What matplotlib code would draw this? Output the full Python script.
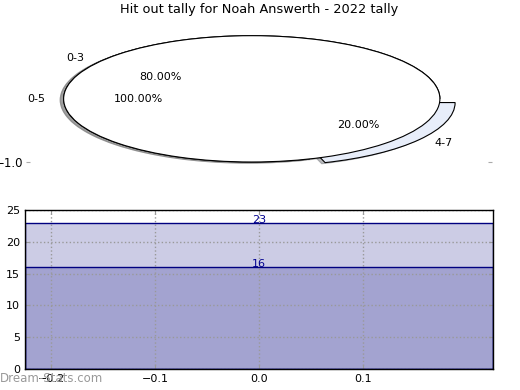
import matplotlib
matplotlib.use("Agg")
import matplotlib.pyplot as plt

title = "Hit out tally for Noah Answerth - 2022 tally"
pie_labels = ["0-3", "4-7"]
pie_values = [80, 20]
pie_explode = [0, 0.1]
pie_colors = ["#ffffff", "#e8eefa"]
total_label = ["0-5"]
total_value = [100]
bar_values = [23, 16]
bar_x = [0.0]
yticks = [0, 5, 10, 15, 20, 25]
xticks = [-0.2, -0.1, 0.0, 0.1]

W, H = 520, 390
fig = plt.figure(figsize=(5.2, 3.9), dpi=100)

def rect(l, t, r, b):
    return [l / W, 1 - b / H, (r - l) / W, (b - t) / H]

shadow = dict(ox=-0.013, oy=-0.013, shade=0.5)

# top pie axes
ax1 = fig.add_axes(rect(26, 30, 492, 162))
ax1.pie(pie_values, labels=pie_labels, explode=pie_explode, colors=pie_colors,
        autopct="%.2f%%", startangle=0, shadow=shadow,
        wedgeprops=dict(edgecolor="black", linewidth=0.8),
        textprops=dict(fontsize=8))
ax1.pie(total_value, labels=total_label, colors=["#ffffff"], autopct="%.2f%%",
        startangle=0, shadow=shadow,
        wedgeprops=dict(edgecolor="black", linewidth=0.8),
        textprops=dict(fontsize=8))
ax1.set_aspect("auto")
ax1.set_xlim(-1.2, 1.277)
ax1.set_ylim(-1.0, 1.09)
ax1.set_frame_on(False)
ax1.set_xticks([])
ax1.set_yticks([-1.0])
ax1.set_yticklabels(["\u22121.0"])
ax1.tick_params(axis="y", direction="in", length=3, color="#aaaaaa",
                left=True, right=True, labelsize=8.5, pad=2)
fig.text(259 / W, 1 - 10 / H, title, ha="center", va="center", fontsize=9.3)

# bottom bar axes
ax2 = fig.add_axes(rect(25, 210, 493, 369))
width = 0.45
for v in bar_values:
    ax2.bar(bar_x, [v], width=width, color="#000080", alpha=0.2,
            edgecolor="none", zorder=2)
    ax2.bar(bar_x, [v], width=width, facecolor="none", edgecolor="#000080",
            linewidth=1.0, zorder=3)
    ax2.text(bar_x[0], v, str(v), ha="center", va="baseline", color="#000090",
             fontsize=8, zorder=4)
ax2.set_xlim(-0.225, 0.225)
ax2.set_ylim(0, 25)
ax2.set_xticks(xticks)
ax2.set_xticklabels(["\u22120.2", "\u22120.1", "0.0", "0.1"])
ax2.set_yticks(yticks)
ax2.grid(True, linestyle=":", color="#999999", linewidth=1.0, zorder=1)
ax2.set_axisbelow(False)
ax2.tick_params(direction="in", length=3, color="#999999", labelsize=8,
                left=True, right=True, top=True, bottom=True)
for s in ax2.spines.values():
    s.set_linewidth(1.0)
    s.set_zorder(5)

fig.text(0.0, 0.012, "Dream-Stats.com", color="#999999", fontsize=8.5,
         ha="left", va="bottom")

fig.savefig("out.png", dpi=100)
